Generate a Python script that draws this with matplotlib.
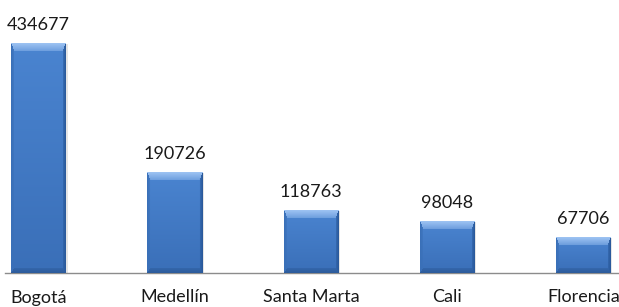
import numpy as np
import matplotlib
matplotlib.use("Agg")
import matplotlib.pyplot as plt
from matplotlib.colors import to_rgb
from matplotlib.transforms import blended_transform_factory

categories = ["Bogotá", "Medellín", "Santa Marta", "Cali", "Florencia"]
values = [434677, 190726, 118763, 98048, 67706]

W_PX, H_PX = 619, 307
fig = plt.figure(figsize=(W_PX / 100, H_PX / 100), dpi=100)
base_px = 273
ax = fig.add_axes([5 / W_PX, (H_PX - base_px) / H_PX, 1 - 5 / W_PX, base_px / H_PX])

cat_px = 136.25
x0_px = 38.5
xl = (5 - x0_px) / cat_px
xr = (W_PX - x0_px) / cat_px
val_per_px = values[0] / 230.0

bar_w = 55 / cat_px
x = np.arange(len(categories))

top_hi = np.array(to_rgb("#9cc2f2"))
left_c = np.array(to_rgb("#3a70b8"))
right_c = np.array(to_rgb("#2a5a9c"))
bot_c = np.array(to_rgb("#2d5c9c"))
mid_top = np.array(to_rgb("#4a84d0"))
mid_bot = np.array(to_rgb("#3a6fb8"))
b_top, b_side, b_bot = 8, 3, 5

for xi, v in zip(x, values):
    ax.bar(xi + 1.5 / cat_px, v + 1 * val_per_px, width=bar_w, bottom=-2 * val_per_px,
           color="#000000", alpha=0.10, zorder=1, linewidth=0)
    ax.bar(xi, v, width=bar_w, color="#3f7bc6", zorder=2, linewidth=0)
    H = max(int(round(v / val_per_px)), b_top + b_bot + 1)
    W = 55
    ii, jj = np.mgrid[0:H, 0:W]
    t = ii / max(H - 1, 1)
    img = mid_top[None, None, :] * (1 - t[..., None]) + mid_bot[None, None, :] * t[..., None]
    n_top = ii / b_top
    n_bot = (H - 1 - ii) / b_bot
    n_left = jj / b_side
    n_right = (W - 1 - jj) / b_side
    nmin = np.minimum.reduce([n_top, n_bot, n_left, n_right])
    mask = nmin < 1
    base = img.copy()
    for n, c in [(n_left, left_c), (n_right, right_c), (n_bot, bot_c), (n_top, top_hi)]:
        sel = mask & (n == nmin)
        f = (1 - n[sel]) * 0.6 + 0.4
        img[sel] = c * f[:, None] + base[sel] * (1 - f[:, None])
    ax.imshow(img, extent=[xi - bar_w / 2, xi + bar_w / 2, 0, v], aspect="auto",
              zorder=3, interpolation="bilinear", origin="upper")
    ax.text(xi, v + 10 * val_per_px, f"{v}", ha="center", va="bottom",
            fontsize=13, family="Lato", color="#1a1a1a", zorder=4)

ax.set_xlim(xl, xr)
ax.set_ylim(0, base_px * val_per_px)

for s in ["top", "right", "left"]:
    ax.spines[s].set_visible(False)
ax.spines["bottom"].set_color("#8c8c8c")
ax.spines["bottom"].set_linewidth(1.0)
ax.set_yticks([])
ax.set_xticks([])

trans = blended_transform_factory(ax.transData, fig.transFigure)
for xi, lab in zip(x, categories):
    fig.text(xi, 1.5 / H_PX, lab, transform=trans, ha="center", va="bottom",
             fontsize=13, family="Lato", color="#1a1a1a")

fig.savefig("out.png", dpi=100, facecolor="white")
